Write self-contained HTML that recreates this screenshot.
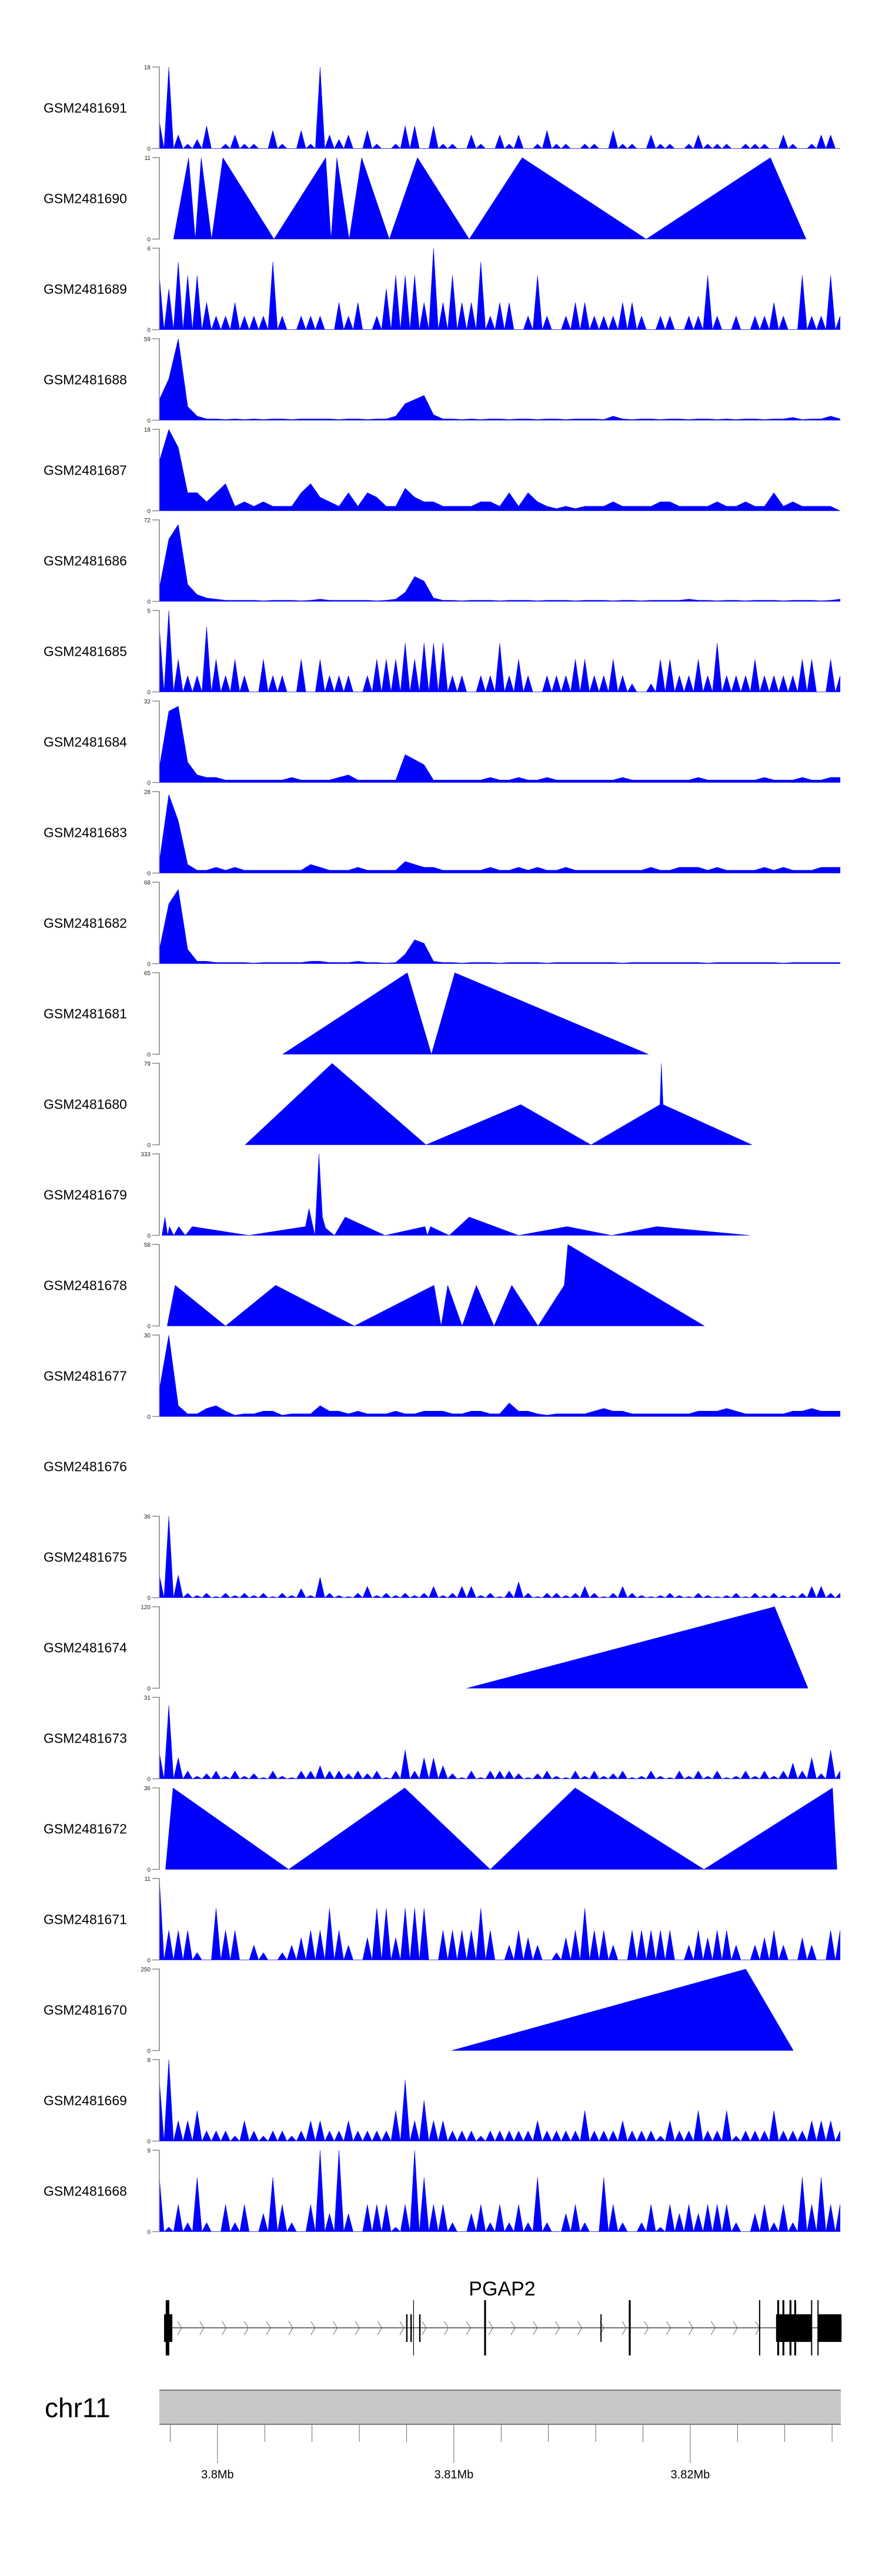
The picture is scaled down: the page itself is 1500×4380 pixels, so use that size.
<!DOCTYPE html>
<html><head><meta charset="utf-8"><style>
html,body{margin:0;padding:0;background:#fff;}
svg{display:block;font-family:"Liberation Sans",Arial,sans-serif;}
</style></head><body>
<svg id="chart" width="1500" height="4380" viewBox="0 0 1500 4380" xmlns="http://www.w3.org/2000/svg"></svg>
<script>
// ---- data ----
const regionStartKb = 3797.54;
const sampleNames = ["GSM2481691","GSM2481690","GSM2481689","GSM2481688","GSM2481687","GSM2481686","GSM2481685","GSM2481684","GSM2481683","GSM2481682","GSM2481681","GSM2481680","GSM2481679","GSM2481678","GSM2481677","GSM2481676","GSM2481675","GSM2481674","GSM2481673","GSM2481672","GSM2481671","GSM2481670","GSM2481669","GSM2481668"];
const maxLabels = [18,11,6,59,18,72,5,32,28,68,65,79,333,58,30,null,36,120,31,36,11,250,8,9];
const binKb = 0.4;
// binned coverage (value at kb = index*binKb)
const vals1691 = [6,18,3,1,2,5,0,1,3,1,1,0,4,1,0,4,1,18,3,2,3,0,4,1,0,1,5,5,0,5,1,1,0,3,1,0,3,1,3,0,1,4,1,1,0,1,1,0,4,1,1,0,3,1,1,0,1,3,1,1,1,0,1,1,1,0,3,1,0,1,3,3,0];
const vals1689 = [4,3,5,4,4,2,1,1,2,1,1,1,5,1,0,1,1,1,0,2,1,2,0,1,3,4,4,4,2,6,2,4,2,2,5,1,2,2,0,1,4,1,0,1,2,2,1,1,1,2,2,1,0,1,1,0,1,1,4,1,0,1,0,1,1,2,1,0,4,1,1,4,1];
const vals1688 = [15,30,59,10,3,1,1,0.5,1,0.5,1,0.5,1,1,0.5,1,1,1,1,0.5,1,1,0.5,1,1,3,12,15,18,4,1,1,0.5,1,0.5,1,1,0.5,1,1,0.5,1,1,0.5,1,1,1,0.5,3,1,0.5,1,1,0.5,1,1,0.5,1,1,0.5,1,0.5,1,1,0.5,1,1,2,0.5,1,1,3,1];
const vals1687 = [11,18,14,4,4,2,4,6,1,2,1,2,1,1,1,4,6,3,2,1,4,1,4,3,1,1,5,3,2,2,1,1,1,1,2,2,1,4,1,4,2,1,0.5,1,0.5,1,1,1,2,1,1,1,1,2,2,1,1,1,1,2,1,1,2,1,1,4,1,2,1,1,1,1,0];
const vals1686 = [12,55,68,15,6,3,2,1,1,1,1,0.5,1,1,1,0.5,1,2,1,1,1,1,1,0.5,1,2,8,22,18,3,1,1,0.5,1,1,1,0.5,1,1,1,0.5,1,1,1,0.5,1,1,1,0.5,1,1,0.5,1,1,1,1,2,1,1,0.5,1,1,0.5,1,1,1,0.5,1,1,1,0.5,1,2];
const vals1685 = [4,5,2,1,1,4,2,1,2,1,0,2,1,1,0,2,0,2,1,1,1,0,1,2,2,2,3,2,3,3,3,1,1,0,1,1,3,1,2,1,0,1,1,1,2,2,1,1,2,1,0.5,0,0.5,2,2,1,1,2,1,3,1,1,1,2,1,1,1,1,2,2,0,2,1];
const vals1684 = [6,28,30,8,3,2,2,1,1,1,1,1,1,1,2,1,1,1,1,2,3,1,1,1,1,1,11,9,7,1,1,1,1,1,1,2,1,1,2,1,1,2,1,1,1,1,1,1,1,2,1,1,1,1,1,1,1,2,1,1,1,1,1,1,2,1,1,1,2,1,1,2,2];
const vals1683 = [4,27,18,3,1,1,2,1,2,1,1,1,1,1,1,1,3,2,1,1,1,2,1,1,1,1,4,3,2,2,1,1,1,1,1,2,1,1,2,1,2,1,1,2,1,1,1,1,1,1,1,1,2,1,1,2,2,2,1,2,1,1,1,1,2,1,2,1,1,1,2,2,2];
const vals1682 = [12,50,62,12,2,2,1,1,1,1,0.5,1,1,1,1,1,2,2,1,1,1,2,1,1,0.5,1,8,20,17,2,1,1,0.5,1,1,1,0.5,1,1,1,1,0.5,1,1,1,1,1,1,1,0.5,1,1,1,1,1,1,1,1,0.5,1,1,1,1,1,1,1,0.5,1,1,1,1,1,1];
const vals1677 = [10,30,4,1,1,3,4,2,0.5,1,1,2,2,0.5,1,1,1,4,2,2,1,2,1,1,1,2,1,1,2,2,2,1,1,2,2,1,1,5,2,2,1,0.5,1,1,1,1,2,3,2,2,1,1,1,1,1,1,1,2,2,2,3,2,1,1,1,1,1,2,2,3,2,2,2];
const vals1675 = [10,36,10,2,1,2,0.5,2,1,2,1,2,0.5,2,1,4,1,9,2,1,0.5,2,5,1,2,1,2,1,2,5,1,2,5,5,1,2,0.5,3,7,2,0.5,2,2,1,2,5,2,0.5,2,5,2,1,0.5,1,2,1,0.5,2,1,0.5,1,2,0.5,2,1,2,1,1,2,5,5,2,2];
const vals1673 = [10,28,8,3,1,2,3,1,3,1,2,0.5,3,1,0.5,3,3,5,3,3,2,3,2,3,0.5,3,11,3,8,8,5,2,0.5,3,0.5,3,3,3,2,0.5,2,3,1,0.5,3,1,3,1,2,3,0.5,1,3,1,0.5,3,1,3,1,3,0.5,1,3,1,3,1,3,6,3,8,2,11,3];
const vals1671 = [11,4,4,4,1,0,7,4,4,0,2,1,0,1,2,3,4,4,7,4,2,0,3,7,7,3,7,7,7,0,4,4,4,4,7,4,0,2,4,3,2,0,1,3,4,7,4,4,2,0,4,4,4,4,4,0,2,4,3,4,4,2,0,2,3,4,2,0,3,2,0,4,4];
const vals1669 = [6,8,2,2,3,1,1,1,0.5,2,1,0.5,1,1,0.5,1,2,2,1,1,2,1,1,1,1,3,6,2,4,2,2,1,1,1,0.5,1,1,1,1,1,2,1,1,1,1,3,1,1,1,2,1,1,1,0.5,2,1,1,3,1,1,3,0.5,1,1,1,3,1,1,1,2,2,2,1];
const vals1668 = [6,0.5,3,1,6,1,0,3,1,3,0,2,6,3,1,0,3,9,2,9,2,0,3,3,3,0.5,3,9,6,3,3,1,0,2,3,1,3,1,3,1,6,1,0,2,3,1,0,6,3,1,0,1,3,0.5,3,2,3,2,3,3,3,1,0,2,3,1,3,1,6,3,6,3,3];
// sparse coverage: (position kb offset, value)
const pos1690 = [0.6,1.24,1.52,1.77,2.21,2.69,4.85,7.04,7.26,7.51,8.03,8.56,9.73,10.92,13.11,15.35,20.6,25.85,27.36];
const vals1690a = [0,11,0,11,0,11,0,11,0,11,0,11,0,11,0,11,0,11,0];
const pos1681 = [5.22,10.49,11.51,12.5,20.69];
const vals1681 = [0,65,0,65,0];
const pos1680 = [3.63,7.31,11.28,15.29,18.26,21.18,21.24,21.31,25.07];
const vals1680 = [0,79,0,39,0,39,79,39,0];
const pos1679 = [0.11,0.24,0.35,0.43,0.61,0.82,1.1,1.39,3.78,6.18,6.33,6.58,6.75,6.9,7.03,7.41,7.86,9.55,11.24,11.34,11.47,12.26,13.11,15.2,17.25,19.13,21.05,24.96];
const vals1679 = [0,75,0,36,0,36,0,36,0,36,110,0,333,75,30,0,75,0,36,0,36,0,75,0,36,0,36,0];
const pos1678 = [0.33,0.67,2.8,4.92,8.25,11.62,11.92,12.2,12.81,13.41,14.16,14.91,16.02,17.13,17.28,23.06];
const vals1678 = [0,29,0,29,0,29,0,29,0,29,0,29,0,29,58,0];
const pos1674 = [13.01,26.03,27.44];
const vals1674 = [0,120,0];
const pos1672 = [0.26,0.58,5.47,10.38,14.0,17.59,23.04,28.48,28.67];
const vals1672 = [0,36,0,36,0,36,0,36,0];
const pos1670 = [12.37,24.81,26.82];
const vals1670 = [0,250,0];
// gene model exons (kb offset): tall = coding, short = UTR
const exonStart = [0.2,0.27,10.44,10.62,10.74,10.99,13.74,18.66,19.86,25.37,26.09,26.14,26.36,26.66,26.86,27.57,27.84,27.86];
const exonEnd   = [0.55,0.42,10.5,10.68,10.77,11.05,13.82,18.71,19.94,25.42,27.59,26.22,26.44,26.74,26.94,27.62,27.89,28.86];
const exonTall  = [0,1,0,0,1,0,1,0,1,1,0,1,1,1,1,1,1,0];
const axisTicksKb = [3798,3800,3802,3804,3806,3808,3810,3812,3814,3816,3818,3820,3822,3824,3826];
const axisMajorKb = [3800,3810,3820];
const axisMajorLabels = ["3.8Mb","3.81Mb","3.82Mb"];

// ---- layout ----
const NS = "http://www.w3.org/2000/svg";
const svg = document.getElementById("chart");
const plotLeft = 271, pxPerKb = 40.2, plotRight = 1430;
const trackTop0 = 114, trackPitch = 154, trackH = 138.5;
function xScale(kbOff){ return plotLeft + kbOff * pxPerKb; }
function xGenome(kb){ return xScale(kb - regionStartKb); }
function mk(tag, attrs){ const e = document.createElementNS(NS, tag); for (const k in attrs) e.setAttribute(k, attrs[k]); return e; }

const binned = {0:vals1691,2:vals1689,3:vals1688,4:vals1687,5:vals1686,6:vals1685,7:vals1684,8:vals1683,9:vals1682,14:vals1677,16:vals1675,18:vals1673,20:vals1671,22:vals1669,23:vals1668};
const spikyTracks = [0,2,6,16,18,20,22,23];
const sparse = {1:[pos1690,vals1690a],10:[pos1681,vals1681],11:[pos1680,vals1680],12:[pos1679,vals1679],13:[pos1678,vals1678],17:[pos1674,vals1674],19:[pos1672,vals1672],21:[pos1670,vals1670]};

sampleNames.forEach((name, i) => {
  const top = trackTop0 + i * trackPitch, base = top + trackH;
  const g = mk("g", {});
  
  
  svg.appendChild(g);
  const lab = mk("text", {x: 74, y: top + trackH/2 + 8, "font-size": 23, fill: "#000"});
  
  
  lab.textContent = name;
  g.appendChild(lab);
  const mx = maxLabels[i];
  if (mx === null) return;
  const yS = v => base - (v / mx) * trackH;
  let pts = [];
  if (binned[i]) {
    const arr = binned[i];
    const spiky = spikyTracks.indexOf(i) >= 0;
    pts.push([xScale(0), base]);
    arr.forEach((v, j) => {
      pts.push([xScale(j * binKb), yS(v)]);
      if (spiky && j < arr.length - 1) pts.push([xScale((j + 0.5) * binKb), base]);
    });
    pts.push([xScale((arr.length - 1) * binKb), base]);
  } else {
    const [p, v] = sparse[i];
    p.forEach((k, j) => pts.push([xScale(k), yS(v[j])]));
  }
  const poly = mk("polygon", {points: pts.map(q => q[0].toFixed(1) + "," + q[1].toFixed(1)).join(" "), fill: "#0000ff", stroke: "#0000ff", "stroke-width": 0.5});
  
  
  g.appendChild(poly);
  const ax = mk("path", {d: `M259,${top}H271V${base}H259`, stroke: "#888", "stroke-width": 1.6, fill: "none"});
  
  
  g.appendChild(ax);
  [[mx, top], [0, base]].forEach(([t, y]) => {
    const tl = mk("text", {x: 256, y: y + 4, "font-size": 10, "text-anchor": "end", fill: "#222"});
    
    
    tl.textContent = t;
    g.appendChild(tl);
  });
});

// gene track
const gg = mk("g", {});


svg.appendChild(gg);
const gname = mk("text", {x: 854, y: 3903, "font-size": 34, "text-anchor": "middle", fill: "#000"});


gname.textContent = "PGAP2";
gg.appendChild(gname);
const gl = mk("line", {x1: xScale(0.2), x2: plotRight, y1: 3958, y2: 3958, stroke: "#444", "stroke-width": 1.5});


gg.appendChild(gl);
for (let x = 302; x < 1300; x += 37.8) {
  const ch = mk("path", {d: `M${x},${3947}L${x+7},${3958}L${x},${3970}`, stroke: "#666", "stroke-width": 1, fill: "none"});
  
  
  gg.appendChild(ch);
}
exonStart.forEach((s, j) => {
  const tall = exonTall[j] === 1;
  const x1 = xScale(s), x2 = xScale(exonEnd[j]);
  const r = mk("rect", {x: x1, y: tall ? 3911 : 3935, width: Math.max(1.2, x2 - x1), height: tall ? 94 : 47, fill: "#000"});
  
  
  gg.appendChild(r);
});

// chromosome axis
const cg = mk("g", {});


svg.appendChild(cg);
const chrT = mk("text", {x: 76, y: 4110, "font-size": 46, fill: "#000"});


chrT.textContent = "chr11";
cg.appendChild(chrT);
const band = mk("rect", {x: plotLeft, y: 4064, width: plotRight - plotLeft, height: 58, fill: "#c8c8c8"});


cg.appendChild(band);
[4064, 4122].forEach(y => {
  const l = mk("line", {x1: plotLeft, x2: plotRight, y1: y, y2: y, stroke: "#7a7a7a", "stroke-width": 2});
  
  
  cg.appendChild(l);
});
axisTicksKb.forEach(k => {
  const major = axisMajorKb.indexOf(k) >= 0;
  const t = mk("line", {x1: xGenome(k), x2: xGenome(k), y1: 4123, y2: major ? 4188 : 4152, stroke: "#444", "stroke-width": 0.8});
  
  
  cg.appendChild(t);
});
axisMajorKb.forEach((k, j) => {
  const t = mk("text", {x: xGenome(k), y: 4214, "font-size": 20, "text-anchor": "middle", fill: "#000"});
  
  
  t.textContent = axisMajorLabels[j];
  cg.appendChild(t);
});
</script>
</body></html>
